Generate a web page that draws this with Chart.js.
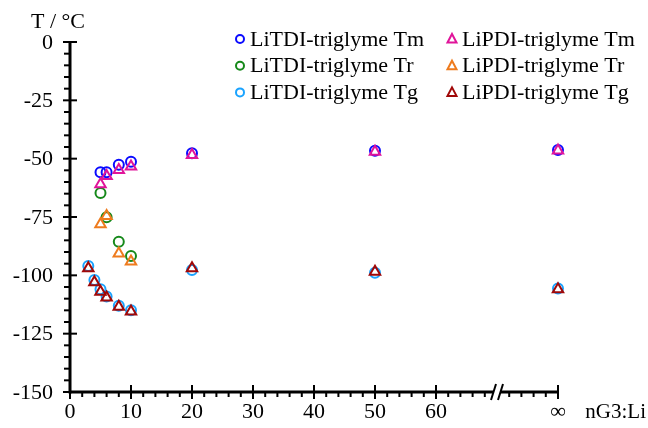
<!DOCTYPE html>
<html>
<head>
<meta charset="utf-8">
<script src="https://cdn.jsdelivr.net/npm/chart.js@4/dist/chart.umd.min.js"></script>
<style>
  html, body { margin: 0; padding: 0; background: #fff; }
  #wrap { width: 648px; height: 428px; }
</style>
</head>
<body>
<div id="wrap"><canvas id="c" width="648" height="428"></canvas></div>
<script>
// x position used for the "infinity" column (after the axis break)
var INF = 80;

var xTm = [5, 6, 8, 10, 20, 50, INF];
var xTr = [5, 6, 8, 10];
var xTg = [3, 4, 5, 6, 8, 10, 20, 50, INF];

var tdiTm = [-55.8, -55.8, -52.6, -51.3, -47.7, -46.6, -46.3];
var pdiTm = [-61.0, -57.4, -54.9, -53.4, -48.4, -47.0, -46.5];
var tdiTr = [-64.7, -75.1, -85.6, -91.7];
var pdiTr = [-78.1, -74.6, -90.6, -94.1];
var tdiTg = [-96.0, -102.0, -106.0, -109.1, -113.0, -115.0, -97.7, -98.9, -105.6];
var pdiTg = [-97.0, -103.0, -107.0, -109.5, -113.5, -115.5, -97.0, -98.5, -106.0];

var xTicks = [0, 10, 20, 30, 40, 50, 60];
var xTickLabels = ['0', '10', '20', '30', '40', '50', '60'];
var yTicks = [0, -25, -50, -75, -100, -125, -150];

var FONT = '"Liberation Serif", "DejaVu Serif", serif';

function pts(xs, ys) {
    return xs.map(function (x, i) { return {x: x, y: ys[i]}; });
}

function series(label, xs, ys, color, style, order) {
    return {
        label: label,
        data: pts(xs, ys),
        pointStyle: style,
        pointRadius: style === 'triangle' ? 6 : 5,
        pointBorderWidth: 2,
        borderColor: color,
        pointBorderColor: color,
        backgroundColor: 'rgba(0,0,0,0)',
        pointBackgroundColor: 'rgba(0,0,0,0)',
        showLine: false,
        order: order
    };
}

var datasets = [
    series('LiTDI-triglyme Tm', xTm, tdiTm, '#0a0aff', 'circle', 1),
    series('LiPDI-triglyme Tm', xTm, pdiTm, '#e0149a', 'triangle', 0),
    series('LiTDI-triglyme Tr', xTr, tdiTr, '#16891a', 'circle', 1),
    series('LiPDI-triglyme Tr', xTr, pdiTr, '#ee7b1e', 'triangle', 0),
    series('LiTDI-triglyme Tg', xTg, tdiTg, '#1aa3ff', 'circle', 1),
    series('LiPDI-triglyme Tg', xTg, pdiTg, '#a00808', 'triangle', 0)
];

// axes, break mark, labels and legend drawn from the chart's own scales
var axesPlugin = {
    id: 'axesPlugin',
    afterDatasetsDraw: function (chart) {
        var ctx = chart.ctx;
        var xs = chart.scales.x, ys = chart.scales.y;
        var x0 = xs.getPixelForValue(0), x1 = xs.getPixelForValue(INF);
        var yb = ys.getPixelForValue(-150), yt = ys.getPixelForValue(0);
        ctx.save();
        ctx.strokeStyle = '#000';
        ctx.fillStyle = '#000';
        ctx.lineCap = 'butt';

        // y axis
        ctx.lineWidth = 3;
        ctx.beginPath();
        ctx.moveTo(x0, yt - 1);
        ctx.lineTo(x0, yb + 1.5);
        ctx.stroke();
        ctx.lineWidth = 2;
        for (var v = 0; v >= -150; v -= 5) {
            var py = ys.getPixelForValue(v);
            ctx.beginPath();
            if (v % 25 === 0) {
                ctx.moveTo(x0 - 7, py); ctx.lineTo(x0 + 7, py);
            } else {
                ctx.moveTo(x0 - 6, py); ctx.lineTo(x0, py);
            }
            ctx.stroke();
        }

        // x axis
        ctx.lineWidth = 3;
        ctx.beginPath();
        ctx.moveTo(x0 - 1, yb);
        ctx.lineTo(x1 + 1, yb);
        ctx.stroke();
        ctx.lineWidth = 2;
        for (var u = 0; u <= INF; u += 2) {
            if (u === 70) continue;
            var px = xs.getPixelForValue(u);
            ctx.beginPath();
            if (u % 10 === 0) {
                ctx.moveTo(px, yb - 7); ctx.lineTo(px, yb + 7);
            } else {
                ctx.moveTo(px, yb); ctx.lineTo(px, yb + 5);
            }
            ctx.stroke();
        }

        // axis break
        var pb = xs.getPixelForValue(70);
        ctx.fillStyle = '#fff';
        ctx.fillRect(pb - 4, yb - 3, 8, 6);
        ctx.lineWidth = 2;
        ctx.beginPath();
        ctx.moveTo(pb - 6, yb + 8); ctx.lineTo(pb - 1, yb - 8);
        ctx.moveTo(pb + 1, yb + 8); ctx.lineTo(pb + 6, yb - 8);
        ctx.stroke();

        // tick labels
        ctx.fillStyle = '#000';
        ctx.font = '22px ' + FONT;
        ctx.textAlign = 'right';
        ctx.textBaseline = 'middle';
        yTicks.forEach(function (t) {
            ctx.fillText(String(t), x0 - 17, ys.getPixelForValue(t) + 1);
        });
        ctx.textAlign = 'center';
        ctx.textBaseline = 'top';
        xTicks.forEach(function (t, i) {
            ctx.fillText(xTickLabels[i], xs.getPixelForValue(t), yb + 9);
        });
        ctx.fillText('\u221e', x1, yb + 9);
        ctx.font = '21px ' + FONT;
        ctx.textAlign = 'right';
        ctx.fillText('nG3:Li', 646, yb + 10);

        // y title
        ctx.font = '22px ' + FONT;
        ctx.textAlign = 'center';
        ctx.textBaseline = 'middle';
        ctx.fillText('T / \u00b0C', 58, 22);

        // legend (two columns)
        ctx.textAlign = 'left';
        chart.data.datasets.forEach(function (ds, i) {
            var col = i % 2, row = Math.floor(i / 2);
            var mx = col === 0 ? 240 : 452;
            var my = 39 + row * 26.7;
            ctx.strokeStyle = ds.pointBorderColor;
            ctx.lineWidth = 2;
            ctx.beginPath();
            if (ds.pointStyle === 'circle') {
                ctx.arc(mx, my, 4, 0, Math.PI * 2);
            } else {
                ctx.moveTo(mx, my - 5);
                ctx.lineTo(mx + 4.5, my + 3.5);
                ctx.lineTo(mx - 4.5, my + 3.5);
                ctx.closePath();
            }
            ctx.stroke();
            ctx.fillStyle = '#000';
            ctx.fillText(ds.label, mx + 10, my + 1);
        });
        ctx.restore();
    }
};

new Chart(document.getElementById('c'), {
    type: 'scatter',
    data: { datasets: datasets },
    options: {
        responsive: false,
        animation: false,
        events: [],
        layout: {
            autoPadding: false,
            padding: { left: 70, right: 90, top: 42, bottom: 36 }
        },
        scales: {
            x: { type: 'linear', min: 0, max: INF, display: false },
            y: { type: 'linear', min: -150, max: 0, display: false }
        },
        plugins: {
            legend: { display: false },
            tooltip: { enabled: false }
        },
        clip: false
    },
    plugins: [axesPlugin]
});
</script>
</body>
</html>
